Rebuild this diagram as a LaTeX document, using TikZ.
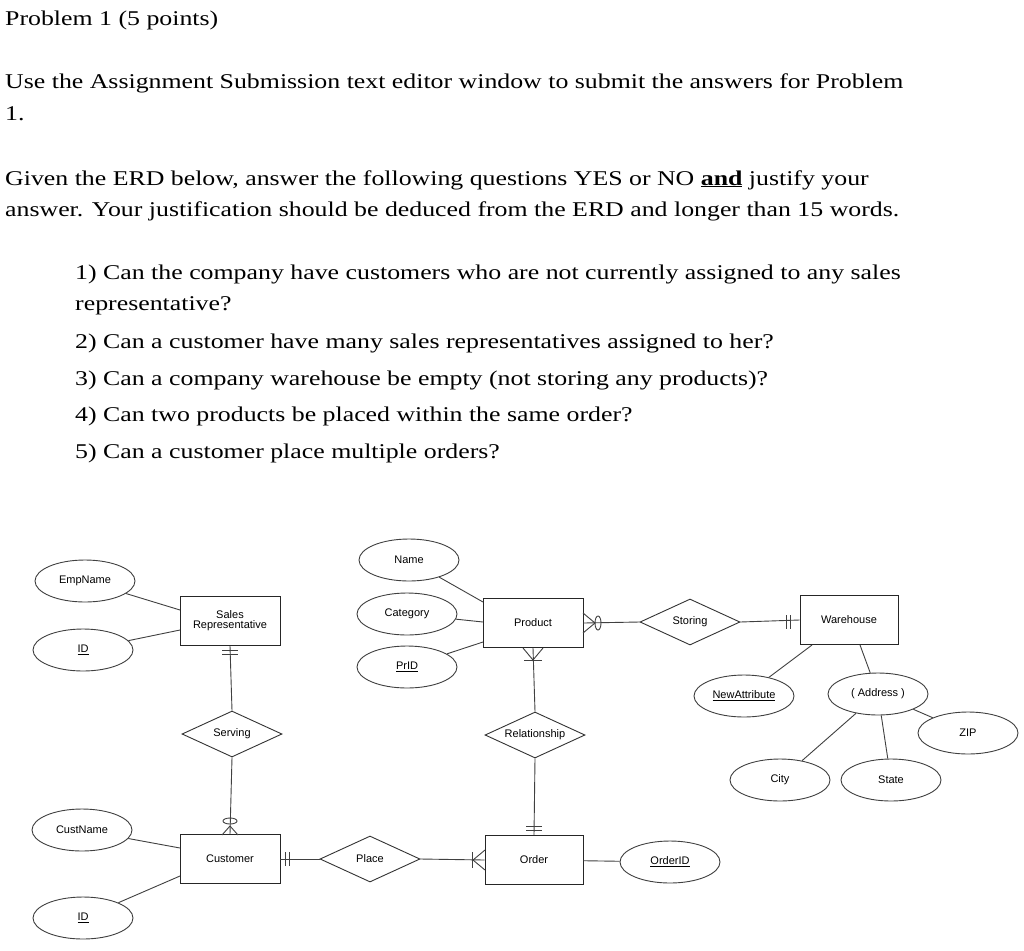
\documentclass[tikz,border=0pt]{standalone}
\usepackage{fontspec}
\setmainfont[FakeStretch=1.23]{Liberation Serif}
\newfontfamily\dsans{Liberation Sans}
\usetikzlibrary{shapes.geometric}
\begin{document}
\begin{tikzpicture}[x=1pt,y=-1pt,
 ent/.style={draw=black!85,line width=0.9pt,minimum width=100pt,minimum height=49pt,font=\dsans\fontsize{11}{13}\selectfont,align=center,inner sep=1pt},
 att/.style={draw=black!75,line width=0.9pt,ellipse,minimum width=100pt,minimum height=42pt,font=\dsans\fontsize{11}{13}\selectfont,inner sep=0pt},
 rel/.style={draw=black!80,line width=0.9pt,diamond,aspect=2.2,minimum width=100pt,minimum height=46pt,font=\dsans\fontsize{11}{13}\selectfont,inner sep=0pt},
 ln/.style={draw=black!75,line width=0.9pt},
 txt/.style={anchor=base west,inner sep=0pt,font=\fontsize{21}{25}\selectfont}]
\useasboundingbox (0,0) rectangle (1024,950);
\fill[white] (0,0) rectangle (1024,950);
\node[txt] (t1) at (5,26) {Problem 1 (5 points)};
\node[txt] (t2) at (5,88) {Use the Assignment Submission text editor window to submit the answers for Problem};
\node[txt] (t3) at (5,120) {1.};
\node[txt] (t4) at (5,185) {Given the ERD below, answer the following questions YES or NO \underline{\textbf{and}} justify your};
\node[txt] (t5) at (5,216) {answer. Your justification should be deduced from the ERD and longer than 15 words.};
\node[txt] (q1) at (75,279) {1) Can the company have customers who are not currently assigned to any sales};
\node[txt] (q1b) at (75,310) {representative?};
\node[txt] (q2) at (75,348) {2) Can a customer have many sales representatives assigned to her?};
\node[txt] (q3) at (75,385) {3) Can a company warehouse be empty (not storing any products)?};
\node[txt] (q4) at (75,421) {4) Can two products be placed within the same order?};
\node[txt] (q5) at (75,458) {5) Can a customer place multiple orders?};

\node[ent] (sr) at (230,621) {Sales\\[-3pt]Representative};
\node[ent] (prod) at (533,623) {Product};
\node[ent,minimum width=98pt] (wh) at (849,620) {Warehouse};
\node[ent] (cust) at (230,859) {Customer};
\node[ent,minimum width=98pt] (ord) at (534,860) {Order};

\node[att] (emp) at (85,581) {EmpName};
\node[att] (id1) at (83,650) {\underline{ID}};
\node[att] (name) at (409,560) {Name};
\node[att] (cat) at (407,614) {Category};
\node[att] (prid) at (407,667) {\underline{PrID}};
\node[att] (na) at (744,696) {\underline{NewAttribute}};
\node[att] (addr) at (878,694) {( Address )};
\node[att] (zip) at (968,733) {ZIP};
\node[att] (city) at (780,780) {City};
\node[att] (state) at (891,780) {State};
\node[att] (cn) at (82,830) {CustName};
\node[att] (id2) at (83,918) {\underline{ID}};
\node[att] (oid) at (670,862) {\underline{OrderID}};

\node[rel] (stor) at (690,622) {Storing};
\node[rel] (serv) at (232,734) {Serving};
\node[rel] (relp) at (535,735) {Relationship};
\node[rel] (place) at (370,859) {Place};

\coordinate (srL1) at (180,610); \coordinate (srL2) at (180,630);
\draw[ln] (emp) -- (srL1); \draw[ln] (id1) -- (srL2);
\coordinate (pL1) at (483,602); \coordinate (pL2) at (483,622); \coordinate (pL3) at (483,642);
\draw[ln] (name) -- (pL1); \draw[ln] (cat) -- (pL2); \draw[ln] (prid) -- (pL3);
\draw[ln] (prod.east) -- (stor.west); \draw[ln] (stor.east) -- (wh.west);
\draw[ln] (prod.south) -- (relp.north); \draw[ln] (relp.south) -- (ord.north);
\draw[ln] (sr.south) -- (serv.north); \draw[ln] (serv.south) -- (cust.north);
\draw[ln] (cust.east) -- (place.west); \draw[ln] (place.east) -- (ord.west);
\coordinate (whB1) at (812,645); \coordinate (whB2) at (860,645);
\draw[ln] (whB1) -- (na); \draw[ln] (whB2) -- (addr);
\draw[ln] (addr) -- (zip); \draw[ln] (addr) -- (city); \draw[ln] (addr) -- (state);
\coordinate (cR1) at (180,848); \coordinate (cR2) at (180,876);
\draw[ln] (cn) -- (cR1); \draw[ln] (id2) -- (cR2);
\draw[ln] (ord) -- (oid);

\begin{scope}[ln]
\draw (583,613) -- (595,623) -- (583,633);
\draw (598,623) ellipse (3 and 7);
\draw (786,615) -- (786,629); \draw (790,615) -- (790,629);
\draw (523,648) -- (533,660) -- (543,648); \draw (524,660) -- (542,660);
\draw (526,826) -- (542,826); \draw (526,830) -- (542,830);
\draw (222,650) -- (238,650); \draw (222,654) -- (238,654);
\draw (222,835) -- (230,826) -- (238,835);
\draw (230,821) ellipse (7 and 3);
\draw (285,852) -- (285,866); \draw (289,852) -- (289,866);
\draw (485,850) -- (473,860) -- (485,870); \draw (472,852) -- (472,868);
\end{scope}
\end{tikzpicture}
\end{document}
